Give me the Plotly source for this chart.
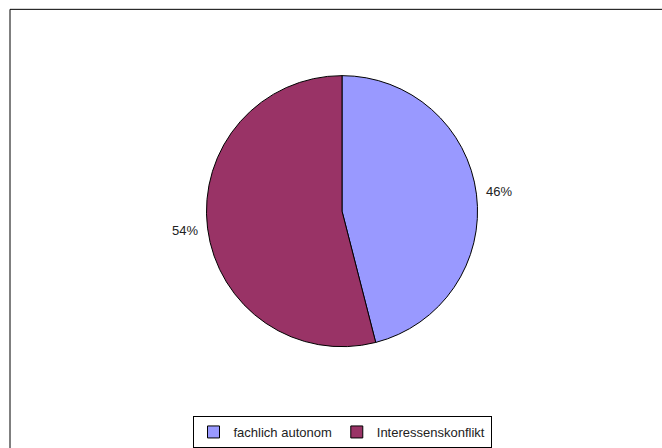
import math
import plotly.graph_objects as go

categories = ["fachlich autonom", "Interessenskonflikt"]
values = [46, 54]
colors = ["#9999FF", "#993366"]

W, H = 662, 448
cx, cy, r = 342, 215, 138

fig = go.Figure()
fig.add_trace(go.Pie(
    labels=categories, values=values, sort=False, direction="clockwise",
    rotation=0, textinfo="none", hoverinfo="label+percent",
    marker=dict(colors=colors, line=dict(color="black", width=1)),
    domain=dict(x=[(cx - r) / W, (cx + r) / W], y=[1 - (cy + r) / H, 1 - (cy - r) / H]),
))

total = sum(values)
acc = 0
rl = 158
for v in values:
    mid = (acc + v / 2) / total * 2 * math.pi
    acc += v
    px = cx + rl * math.sin(mid)
    py = cy - rl * math.cos(mid)
    fig.add_annotation(x=px / W, y=1 - py / H, xref="paper", yref="paper",
                       xanchor="center", yanchor="middle",
                       text=f"{round(v / total * 100)}%", showarrow=False,
                       font=dict(family="Liberation Sans, Arial", size=13, color="#222"))

fig.add_shape(type="rect", xref="paper", yref="paper",
              x0=10 / W, x1=1.05, y0=-0.05, y1=1 - 9.5 / H,
              line=dict(color="black", width=1), fillcolor="rgba(0,0,0,0)")

fig.update_layout(
    width=W, height=H, margin=dict(l=0, r=0, t=0, b=0),
    paper_bgcolor="white", plot_bgcolor="white",
    font=dict(family="Liberation Sans, Arial", size=13, color="#222"),
    legend=dict(orientation="h", x=342 / W, xanchor="center", y=1 - 424 / H, yanchor="top",
                bordercolor="black", borderwidth=1, bgcolor="white",
                font=dict(size=13), itemwidth=30, tracegroupgap=0),
    showlegend=True,
)
fig.write_html("out.html")
